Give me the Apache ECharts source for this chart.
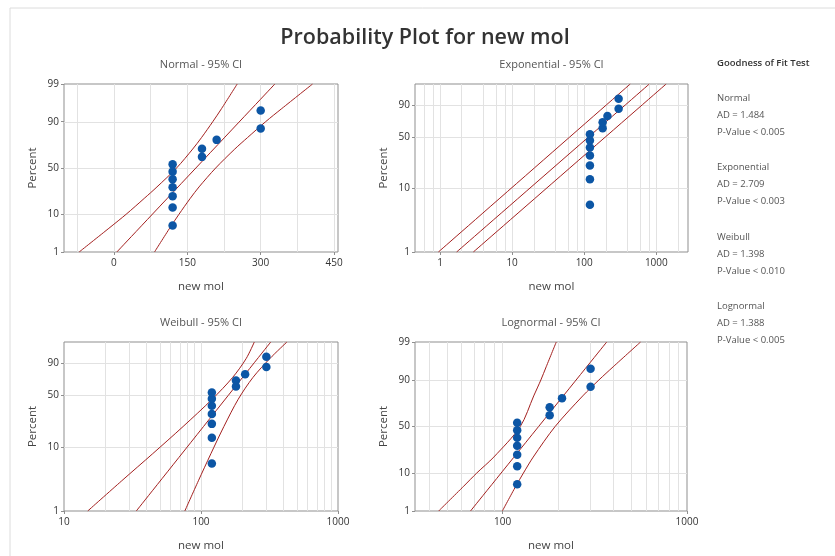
<!DOCTYPE html>
<html>
<head>
<meta charset="utf-8">
<script src="https://cdn.jsdelivr.net/npm/echarts@6/dist/echarts.min.js"></script>
<style>
  html, body { margin: 0; background: #fff; }
  #main { width: 835px; height: 556px; }
</style>
</head>
<body>
<div id="main"></div>
<script>
// sample data (new mol) and its plotting positions in percent
var newMol = [120, 120, 120, 120, 120, 120, 120, 180, 180, 210, 300, 300];
var percent = [5.6, 13.7, 21.8, 29.8, 37.9, 46.0, 54.0, 62.1, 70.2, 78.2, 86.3, 94.4];

// Normal panel: fitted line and 95% CI curves
var normalFitX = [6, 329];
var normalFitP = [1, 99];
var normalCiP = [1, 5, 10, 20, 30, 50, 70, 80, 90, 95, 99];
var normalCiLeftX = [-71, -8, 25, 62, 88, 128, 161, 179, 202, 220, 252];
var normalCiRightX = [83, 115, 133, 156, 174, 208, 247, 273, 310, 343, 406];

// Exponential panel
var expoLineP = [1, 99.3];
var expoFitX = [1.7, 800];
var expoCiLeftX = [0.95, 435];
var expoCiRightX = [2.9, 1370];

// Weibull panel
var weibullFitX = [33.7, 323];
var weibullFitP = [1, 99.3];
var weibullCiP = [1, 3, 7.9, 20, 45.5, 74, 93.4, 99.3];
var weibullCiLeftX = [14.9, 26.4, 44.4, 74.0, 120.6, 170, 214, 245];
var weibullCiRightX = [76.2, 95.7, 118.1, 146.9, 186.9, 239.2, 319.0, 423.6];

// Lognormal panel
var lognFitX = [67, 367];
var lognFitP = [1, 99];
var lognCiP = [1, 5, 10, 20, 50, 80, 90, 95, 99];
var lognCiLeftX = [45.0, 61.5, 72.4, 89.6, 124.7, 147.5, 161.3, 172.4, 195.5];
var lognCiRightX = [99.7, 117.9, 129.7, 146.6, 192.7, 272, 333, 398, 560];

// tick labels
var normalXTicks = [0, 150, 300, 450];
var normalXGrid = [-75, 0, 75, 150, 225, 300, 375, 450];
var expoXTicks = [1, 10, 100, 1000];
var expoXGrid = [0.6, 0.8, 1, 2, 4, 6, 8, 10, 20, 40, 60, 80, 100, 200, 400, 600, 800, 1000, 2000];
var weibullXTicks = [10, 100, 1000];
var weibullXGrid = [20, 30, 40, 50, 60, 70, 80, 90, 100, 200, 300, 400, 500, 600, 700, 800, 900];
var lognXTicks = [100, 1000];
var lognXGrid = [40, 50, 60, 70, 80, 90, 100, 200, 300, 400, 500, 600, 700, 800, 900];
var pctTicksFull = [1, 10, 50, 90, 99];
var pctTicksSev = [1, 10, 50, 90];
var pctGrid = [10, 50, 90];

// goodness of fit table
var gofNames = ['Normal', 'Exponential', 'Weibull', 'Lognormal'];
var gofAD = ['1.484', '2.709', '1.398', '1.388'];
var gofP = ['< 0.005', '< 0.003', '< 0.010', '< 0.005'];

var FONT = '"Open Sans", "Noto Sans", sans-serif';
var DOT = '#0c56a5';
var RED = '#a3201f';
var GRID = '#e2e2e2';

// inverse normal cdf (Acklam), used for the normal probability scale
function probit(p) {
    var a = [-39.69683028665376, 220.9460984245205, -275.9285104469687, 138.3577518672690, -30.66479806614716, 2.506628277459239];
    var b = [-54.47609879822406, 161.5858368580409, -155.6989798598866, 66.80131188771972, -13.28068155288572];
    var c = [-0.007784894002430293, -0.3223964580411365, -2.400758277161838, -2.549732539343734, 4.374664141464968, 2.938163982698783];
    var d = [0.007784695709041462, 0.3224671290700398, 2.445134137142996, 3.754408661907416];
    var pl = 0.02425, q, r;
    if (p < pl) {
        q = Math.sqrt(-2 * Math.log(p));
        return (((((c[0] * q + c[1]) * q + c[2]) * q + c[3]) * q + c[4]) * q + c[5]) / ((((d[0] * q + d[1]) * q + d[2]) * q + d[3]) * q + 1);
    }
    if (p > 1 - pl) {
        q = Math.sqrt(-2 * Math.log(1 - p));
        return -(((((c[0] * q + c[1]) * q + c[2]) * q + c[3]) * q + c[4]) * q + c[5]) / ((((d[0] * q + d[1]) * q + d[2]) * q + d[3]) * q + 1);
    }
    q = p - 0.5; r = q * q;
    return (((((a[0] * r + a[1]) * r + a[2]) * r + a[3]) * r + a[4]) * r + a[5]) * q / (((((b[0] * r + b[1]) * r + b[2]) * r + b[3]) * r + b[4]) * r + 1);
}
function normScale(pc) { return probit(pc / 100); }
function sevScale(pc) { return Math.log(-Math.log(1 - pc / 100)); }

function pairs(xs, ps, f) {
    return xs.map(function (x, i) { return [x, f(ps[i])]; });
}

var panels = [
    {
        title: 'Normal - 95% CI', grid: { left: 64, top: 84, width: 274, height: 168 },
        xType: 'value', xMin: -102, xMax: 458, xTicks: normalXTicks, xGrid: normalXGrid,
        f: normScale, pMin: 1, pMax: 99, pTicks: pctTicksFull,
        fit: pairs(normalFitX, normalFitP, normScale),
        left: pairs(normalCiLeftX, normalCiP, normScale),
        right: pairs(normalCiRightX, normalCiP, normScale)
    },
    {
        title: 'Exponential - 95% CI', grid: { left: 415, top: 84, width: 273, height: 168 },
        xType: 'log', xMin: 0.45, xMax: 2750, xTicks: expoXTicks, xGrid: expoXGrid,
        f: sevScale, pMin: 1, pMax: 99.3, pTicks: pctTicksSev,
        fit: pairs(expoFitX, expoLineP, sevScale),
        left: pairs(expoCiLeftX, expoLineP, sevScale),
        right: pairs(expoCiRightX, expoLineP, sevScale)
    },
    {
        title: 'Weibull - 95% CI', grid: { left: 64, top: 342, width: 274, height: 169 },
        xType: 'log', xMin: 10, xMax: 1000, xTicks: weibullXTicks, xGrid: weibullXGrid,
        f: sevScale, pMin: 1, pMax: 99.3, pTicks: pctTicksSev,
        fit: pairs(weibullFitX, weibullFitP, sevScale),
        left: pairs(weibullCiLeftX, weibullCiP, sevScale),
        right: pairs(weibullCiRightX, weibullCiP, sevScale)
    },
    {
        title: 'Lognormal - 95% CI', grid: { left: 415, top: 342, width: 272, height: 169 },
        xType: 'log', xMin: 33.5, xMax: 1000, xTicks: lognXTicks, xGrid: lognXGrid,
        f: normScale, pMin: 1, pMax: 99, pTicks: pctTicksFull,
        fit: pairs(lognFitX, lognFitP, normScale),
        left: pairs(lognCiLeftX, lognCiP, normScale),
        right: pairs(lognCiRightX, lognCiP, normScale)
    }
];

var option = {
    backgroundColor: '#fff',
    animation: false,
    grid: [], xAxis: [], yAxis: [], series: [],
    graphic: [
        { type: 'line', shape: { x1: 10, y1: 8, x2: 835, y2: 8 }, style: { stroke: '#dcdcdc', lineWidth: 1 } },
        { type: 'line', shape: { x1: 10, y1: 8, x2: 10, y2: 556 }, style: { stroke: '#dcdcdc', lineWidth: 1 } },
        { type: 'text', x: 425, y: 38, style: { text: 'Probability Plot for new mol', font: '600 21.5px ' + FONT, fill: '#333', textAlign: 'center', textVerticalAlign: 'middle' } }
    ]
};

panels.forEach(function (pn, i) {
    var g = pn.grid;
    var cx = g.left + g.width / 2;
    var cy = g.top + g.height / 2;
    option.grid.push({ left: g.left, top: g.top, width: g.width, height: g.height, show: true, borderColor: '#8f8f8f', borderWidth: 1, backgroundColor: '#fff' });
    option.xAxis.push({
        gridIndex: i, type: pn.xType, min: pn.xMin, max: pn.xMax,
        axisLine: { show: false, onZero: false },
        axisTick: { show: true, length: 3, customValues: pn.xTicks, lineStyle: { color: '#8f8f8f' } },
        axisLabel: { customValues: pn.xTicks, margin: 6, color: '#333', fontSize: 10, fontFamily: FONT,
            formatter: function (v) { return String(Math.round(v)); } },
        splitLine: { show: false }, minorSplitLine: { show: false }
    });
    var yTickVals = pn.pTicks.map(pn.f);
    option.yAxis.push({
        gridIndex: i, type: 'value', min: pn.f(pn.pMin), max: pn.f(pn.pMax),
        axisLine: { show: false, onZero: false },
        axisTick: { show: true, length: 3, customValues: yTickVals, lineStyle: { color: '#8f8f8f' } },
        axisLabel: { customValues: yTickVals, margin: 5, color: '#333', fontSize: 10, fontFamily: FONT,
            formatter: function (v) {
                var best = pn.pTicks[0], dist = Infinity;
                pn.pTicks.forEach(function (t) {
                    var dd = Math.abs(pn.f(t) - v);
                    if (dd < dist) { dist = dd; best = t; }
                });
                return String(best);
            } },
        splitLine: { show: false }
    });
    // grid lines, kept under the marks
    var gl = pn.xGrid.map(function (v) { return { xAxis: v }; })
        .concat(pctGrid.map(function (p) { return { yAxis: pn.f(p) }; }));
    option.series.push({
        type: 'line', xAxisIndex: i, yAxisIndex: i, data: [], z: 1, silent: true,
        markLine: { z: 1, silent: true, symbol: 'none', animation: false, label: { show: false },
            lineStyle: { color: GRID, type: 'solid', width: 1 }, emphasis: { disabled: true }, data: gl }
    });
    [pn.left, pn.fit, pn.right].forEach(function (d) {
        option.series.push({
            type: 'line', xAxisIndex: i, yAxisIndex: i, data: d, showSymbol: false, smooth: 0.3,
            clip: true, z: 3, lineStyle: { color: RED, width: 1 }, silent: true
        });
    });
    option.series.push({
        type: 'scatter', xAxisIndex: i, yAxisIndex: i, z: 4, symbolSize: 8.5,
        itemStyle: { color: DOT, opacity: 1 },
        data: newMol.map(function (x, k) { return [x, pn.f(percent[k])]; })
    });
    option.graphic.push(
        { type: 'text', x: cx, y: g.top - 19, style: { text: pn.title, font: '11px ' + FONT, fill: '#555', textAlign: 'center', textVerticalAlign: 'middle' } },
        { type: 'text', x: cx, y: g.top + g.height + 35, style: { text: 'new mol', font: '11.5px ' + FONT, fill: '#444', textAlign: 'center', textVerticalAlign: 'middle' } },
        { type: 'text', x: g.left - 31, y: cy, rotation: Math.PI / 2, style: { text: 'Percent', font: '11.5px ' + FONT, fill: '#444', textAlign: 'center', textVerticalAlign: 'middle' } }
    );
});

// goodness of fit text block
option.graphic.push({ type: 'text', x: 717, y: 63, style: { text: 'Goodness of Fit Test', font: '600 9.5px ' + FONT, fill: '#333', textVerticalAlign: 'middle' } });
gofNames.forEach(function (name, k) {
    var y0 = 98 + k * 69.5;
    option.graphic.push(
        { type: 'text', x: 717, y: y0, style: { text: name, font: '9.5px ' + FONT, fill: '#555', textVerticalAlign: 'middle' } },
        { type: 'text', x: 717, y: y0 + 17, style: { text: 'AD = ' + gofAD[k], font: '9.5px ' + FONT, fill: '#555', textVerticalAlign: 'middle' } },
        { type: 'text', x: 717, y: y0 + 34, style: { text: 'P-Value ' + gofP[k], font: '9.5px ' + FONT, fill: '#555', textVerticalAlign: 'middle' } }
    );
});

var myChart = echarts.init(document.getElementById('main'));
myChart.setOption(option);
</script>
</body>
</html>
